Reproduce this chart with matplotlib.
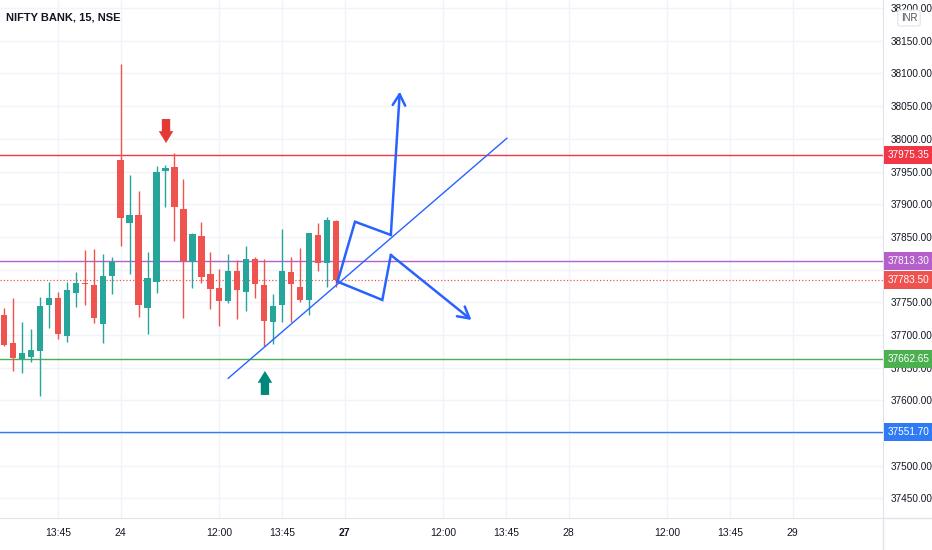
import matplotlib
matplotlib.use('Agg')
import matplotlib.pyplot as plt
import matplotlib.transforms as mtransforms
from matplotlib.lines import Line2D

plt.rcParams['font.family'] = ['Liberation Sans', 'DejaVu Sans']

# ---------------- data ----------------
bar_index = list(range(-13, 25))
opens = [37730.6, 37687.3, 37663.3, 37666.4, 37676.0, 37745.9, 37757.1, 37699.0, 37764.7, 37780.0, 37777.0, 37716.9, 37790.8,
         37967.7, 37871.8, 37883.6, 37740.9, 37780.6, 37951.3, 37957.4, 37892.8, 37811.2, 37851.5, 37793.3, 37771.9, 37752.5,
         37798.4, 37766.3, 37816.3, 37776.5, 37720.4, 37745.9, 37796.9, 37773.0, 37753.6, 37853.0, 37810.6, 37874.9]
closes = [37684.7, 37664.4, 37672.5, 37677.1, 37744.9, 37757.1, 37701.1, 37768.9, 37780.0, 37777.6, 37725.6, 37790.3, 37812.2,
          37878.5, 37883.6, 37745.9, 37786.8, 37949.8, 37955.9, 37895.4, 37813.2, 37854.1, 37789.2, 37770.4, 37752.5, 37798.4,
          37768.9, 37816.3, 37777.6, 37721.9, 37744.9, 37798.4, 37777.6, 37753.6, 37855.6, 37810.6, 37875.9, 37783.5]
highs = [37741.3, 37756.6, 37720.4, 37709.2, 37758.6, 37781.6, 37766.3, 37781.6, 37795.9, 37830.0, 37831.6, 37823.5, 37819.8,
         38114.5, 37944.8, 37920.3, 37827.5, 37958.5, 37960.0, 37978.0, 37938.2, 37856.5, 37873.3, 37827.5, 37800.5, 37823.5,
         37814.8, 37836.6, 37819.8, 37815.8, 37762.8, 37861.7, 37819.8, 37832.6, 37856.5, 37871.8, 37881.0, 37875.9]
lows = [37683.2, 37645.0, 37641.9, 37659.2, 37607.2, 37711.2, 37693.9, 37688.9, 37742.4, 37745.9, 37717.9, 37688.3, 37762.8,
        37836.6, 37792.9, 37728.0, 37701.1, 37763.8, 37896.3, 37843.8, 37725.6, 37772.4, 37779.1, 37739.4, 37713.3, 37748.5,
        37724.1, 37737.2, 37757.1, 37683.2, 37686.3, 37719.5, 37720.4, 37751.0, 37730.6, 37797.9, 37773.0, 37773.0]

level_prices = [37975.35, 37813.30, 37783.50, 37662.65, 37551.70]
level_labels = ['37975.35', '37813.30', '37783.50', '37662.65', '37551.70']
level_colors = ['#f23645', '#b55fcb', '#ef5350', '#4caf50', '#2f7bf5']
level_styles = ['-', '-', ':', '-', '-']

price_ticks = [37450, 37500, 37550, 37600, 37650, 37700, 37750, 37800, 37850, 37900,
               37950, 38000, 38050, 38100, 38150, 38200]
hidden_price_ticks = [37550, 37800]   # fully covered by level labels in the reference
time_tick_pos = [-7, 0, 11, 18, 25, 36, 43, 50, 61, 68, 75]
time_tick_labels = ['13:45', '24', '12:00', '13:45', '27', '12:00', '13:45', '28', '12:00', '13:45', '29']
bold_time_labels = ['27']

trend_x = [12.0, 43.1]
trend_y = [37633.8, 38000.9]
up_path_x = [24.2, 26.15, 30.15, 31.15]
up_path_y = [37781.6, 37873.3, 37853.0, 38072.2]
down_path_x = [24.2, 29.2, 30.15, 39.15]
down_path_y = [37781.6, 37753.6, 37822.4, 37723.0]

sell_arrow_x = 5.06
sell_arrow_y = [38030.4, 37993.7]
buy_arrow_x = 16.1
buy_arrow_y = [37608.3, 37645.0]

# ---------------- styling ----------------
UP = '#26a69a'
DOWN = '#ef5350'
BLUE = '#2962ff'
TEXT = '#131722'
GRID = '#f0f3fa'
BORDER = '#e0e3eb'

W, H = 932, 550
fig = plt.figure(figsize=(W / 100, H / 100), dpi=100)
fig.patch.set_facecolor('white')
ax = fig.add_axes([0, 32 / H, 883 / W, 518 / H])
ax.set_facecolor('white')
ax.set_xlim(-13.47, 85.08)
ax.set_ylim(37420.1, 38212.4)

ax.set_yticks(price_ticks)
ax.set_yticklabels(['' if p in hidden_price_ticks else f'{p:.2f}' for p in price_ticks])
ax.set_xticks(time_tick_pos)
ax.set_xticklabels(time_tick_labels)
ax.grid(True, color=GRID, lw=1, zorder=0)
ax.set_axisbelow(True)
ax.yaxis.tick_right()
ax.tick_params(axis='y', length=0, pad=5.5, labelsize=7.2, labelcolor=TEXT)
ax.tick_params(axis='x', length=0, pad=7, labelsize=7.5, labelcolor=TEXT)
for lbl in ax.get_xticklabels():
    if lbl.get_text() in bold_time_labels:
        lbl.set_fontweight('bold')
for s in ['top', 'left']:
    ax.spines[s].set_visible(False)
ax.spines['right'].set_color(BORDER)
ax.spines['bottom'].set_color(BORDER)

# horizontal levels
for p, c, ls in zip(level_prices, level_colors, level_styles):
    ax.axhline(p, color=c, lw=1.0 if ls == '-' else 0.9, ls=ls, zorder=1)

# candles
for i, o, h, l, c in zip(bar_index, opens, highs, lows, closes):
    col = UP if c >= o else DOWN
    ax.vlines(i, l, h, color=col, lw=1.0, zorder=2)
    lo = min(o, c)
    ht = max(abs(c - o), 1.5)
    ax.bar(i, ht, bottom=lo, width=0.72, color=col, lw=0, zorder=3)

# trend line and projection paths
ax.plot(trend_x, trend_y, color=BLUE, lw=1.0, zorder=4)
for px, py in [(up_path_x, up_path_y), (down_path_x, down_path_y)]:
    ax.plot(px[:-1], py[:-1], color=BLUE, lw=1.8, zorder=4, solid_joinstyle='miter')
    ax.annotate('', xy=(px[-1], py[-1]), xytext=(px[-2], py[-2]),
                arrowprops=dict(arrowstyle='->,head_length=0.8,head_width=0.45', color=BLUE, lw=1.8,
                                shrinkA=0, shrinkB=0, mutation_scale=10), zorder=4)

# block arrows
ax.annotate('', xy=(sell_arrow_x, sell_arrow_y[1]), xytext=(sell_arrow_x, sell_arrow_y[0]),
            arrowprops=dict(arrowstyle='simple,head_length=0.85,head_width=1.05,tail_width=0.6',
                            fc='#e53935', ec='none', shrinkA=0, shrinkB=0, mutation_scale=10), zorder=5)
ax.annotate('', xy=(buy_arrow_x, buy_arrow_y[1]), xytext=(buy_arrow_x, buy_arrow_y[0]),
            arrowprops=dict(arrowstyle='simple,head_length=0.85,head_width=1.05,tail_width=0.6',
                            fc='#00897b', ec='none', shrinkA=0, shrinkB=0, mutation_scale=10), zorder=5)

# price labels on the right axis
trans = mtransforms.blended_transform_factory(ax.transAxes, ax.transData)
for p, t, c in zip(level_prices, level_labels, level_colors):
    ax.text(1.0 + 5 / 883, p, t, transform=trans, ha='left', va='center', fontsize=7.2,
            color='white', clip_on=False, zorder=10,
            bbox=dict(boxstyle='square,pad=0.4', fc=c, ec='none'))

# INR box
fig.text(909 / W, 1 - 18 / H, 'INR', ha='center', va='center', fontsize=7, color='#50535e', zorder=10,
         bbox=dict(boxstyle='round,pad=0.3,rounding_size=0.2', fc='white', ec=BORDER, lw=0.8))

# separators
fig.add_artist(Line2D([883 / W, 883 / W], [0, 32 / H], color=BORDER, lw=1))
fig.add_artist(Line2D([883 / W, 1], [32 / H, 32 / H], color=BORDER, lw=1))

# title
fig.text(6 / W, 1 - 18 / H, 'NIFTY BANK, 15, NSE', ha='left', va='center', fontsize=8,
         fontweight='bold', color=TEXT)

fig.savefig('out.png', dpi=100, facecolor='white')
